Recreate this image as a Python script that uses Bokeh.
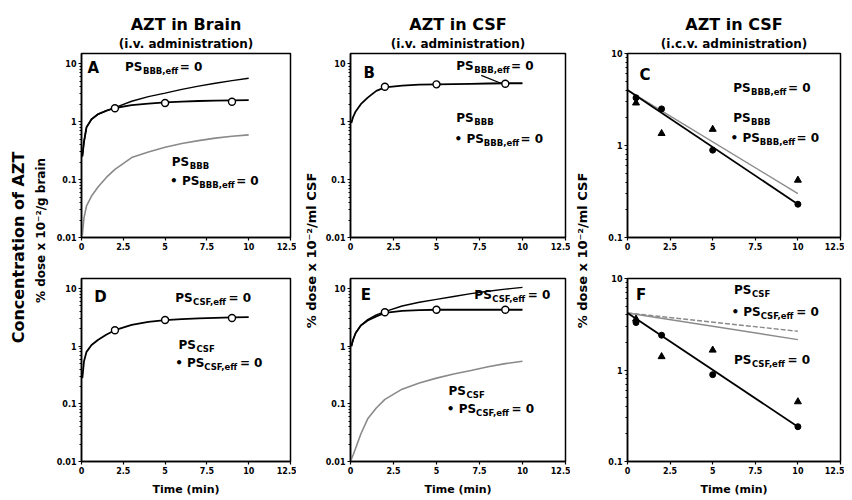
import numpy as np
from bokeh.plotting import figure
from bokeh.models import Label, Title, FixedTicker, CustomJSTickFormatter, Range1d
from bokeh.layouts import row, column
from bokeh.embed import file_html
from bokeh.resources import INLINE

FONT = "DejaVu Sans"

# ---------------- data ----------------
X_TICKS = [0, 2.5, 5, 7.5, 10, 12.5]
X_TICK_LABELS = ["0", "2.5", "5", "7.5", "10", "12.5"]
Y_TICKS_WIDE = [0.01, 0.1, 1, 10]
Y_TICK_LABELS_WIDE = ["0.01", "0.1", "1", "10"]
Y_TICKS_NARROW = [0.1, 1, 10]
Y_TICK_LABELS_NARROW = ["0.1", "1", "10"]

TITLES = ["AZT in Brain", "AZT in CSF", "AZT in CSF"]
SUBTITLES = ["(i.v. administration)", "(i.v. administration)", "(i.c.v. administration)"]
PANEL_LETTERS = ["A", "B", "C", "D", "E", "F"]
Y_LABEL_1 = "Concentration of AZT"
Y_LABEL_2 = "% dose x 10\u207b\u00b2/g brain"
Y_LABEL_CSF = "% dose x 10\u207b\u00b2/ml CSF"
X_LABEL = "Time (min)"

curve_t = [0.05, 0.15, 0.3, 0.6, 1, 1.5, 2, 3, 4, 5, 6, 7, 8, 9, 10]

# Panel A - brain, i.v.
a_eff0 = [0.25, 0.45, 0.8, 1.1, 1.35, 1.55, 1.75, 2.25, 2.7, 3.1, 3.6, 4.1, 4.6, 5.1, 5.6]
a_fit = [0.25, 0.45, 0.8, 1.1, 1.35, 1.55, 1.72, 1.92, 2.05, 2.15, 2.22, 2.27, 2.3, 2.33, 2.35]
a_low = [0.011, 0.022, 0.035, 0.052, 0.075, 0.11, 0.15, 0.24, 0.3, 0.36, 0.42, 0.47, 0.52, 0.56, 0.59]
a_obs_t = [2, 5, 9]
a_obs = [1.7, 2.1, 2.2]

# Panel B - CSF, i.v.
b_fit = [0.95, 1.2, 1.5, 2.0, 2.6, 3.4, 3.9, 4.2, 4.35, 4.4, 4.45, 4.5, 4.55, 4.6, 4.6]
b_obs_t = [2, 5, 9]
b_obs = [4.0, 4.4, 4.5]
b_leader_t = [7.6, 9.0]
b_leader = [6.3, 4.3]

# Panel C - CSF, i.c.v.
c_line_t = [0, 10]
c_fit = [4.0, 0.23]
c_fit2 = [4.0, 0.30]
c_obs_t = [0.5, 2, 5, 10]
c_circles = [3.3, 2.5, 0.89, 0.23]
c_triangles = [2.9, 1.35, 1.5, 0.42]

# Panel D - brain, i.v. (CSF parameters)
d_fit = [0.28, 0.55, 0.8, 1.05, 1.3, 1.6, 1.9, 2.35, 2.65, 2.85, 2.97, 3.05, 3.12, 3.17, 3.2]
d_obs_t = [2, 5, 9]
d_obs = [1.9, 2.85, 3.1]

# Panel E - CSF, i.v. (CSF parameters)
e_eff0 = [1.0, 1.3, 1.7, 2.3, 2.9, 3.5, 4.0, 5.0, 5.8, 6.5, 7.3, 8.2, 9.0, 9.8, 10.5]
e_fit = [1.0, 1.3, 1.7, 2.3, 2.8, 3.3, 3.8, 4.1, 4.25, 4.3, 4.3, 4.3, 4.3, 4.3, 4.3]
e_low = [0.011, 0.013, 0.017, 0.03, 0.055, 0.085, 0.12, 0.18, 0.23, 0.28, 0.33, 0.38, 0.44, 0.5, 0.55]
e_obs_t = [2, 5, 9]
e_obs = [3.9, 4.3, 4.3]

# Panel F - CSF, i.c.v. (CSF parameters)
f_line_t = [0, 10]
f_fit = [4.2, 0.24]
f_alt1 = [4.2, 2.65]
f_alt2 = [4.2, 2.15]
f_obs_t = [0.5, 2, 5, 10]
f_circles = [3.3, 2.4, 0.89, 0.24]
f_triangles = [3.6, 1.4, 1.65, 0.45]

# ---------------- helpers ----------------
CW = {"P": .733, "S": .720, "B": .762, "C": .734, "F": .683, "e": .678, "f": .435,
      ",": .380, " ": .348, "=": .838, "0": .696, "\u2022": .590}
INK = "black"


def tw(s, size):
    return sum(CW.get(c, 0.65) for c in s) * size


def fmt(ticks, labels):
    return CustomJSTickFormatter(args=dict(tvals=ticks, tlabels=labels), code="""
        for (let i = 0; i < tvals.length; i++) {
            if (Math.abs(tvals[i] - tick) <= 1e-6 * Math.max(1e-3, Math.abs(tvals[i]))) return tlabels[i];
        }
        return "";
    """)


def minor_log(lo_exp, hi_exp):
    return [m * 10.0 ** e for e in range(lo_exp, hi_exp) for m in range(2, 10)]


def panel(w, h, yr, yticks, ylabels, bl, br, bt, bb, letter, lx, ly):
    p = figure(width=w, height=h, x_range=Range1d(0, 12.5), y_range=Range1d(*yr),
               y_axis_type="log", output_backend="svg", toolbar_location=None,
               title_location=None, min_border_left=bl, min_border_right=br,
               min_border_top=bt, min_border_bottom=bb)
    p.xgrid.visible = False
    p.ygrid.visible = False
    p.outline_line_color = INK
    p.outline_line_width = 1.5
    p.background_fill_color = "white"
    p.xaxis.ticker = FixedTicker(ticks=X_TICKS)
    p.xaxis.formatter = fmt(X_TICKS, X_TICK_LABELS)
    lo = int(round(np.log10(yticks[0])))
    p.yaxis.ticker = FixedTicker(ticks=yticks, minor_ticks=minor_log(lo, 1))
    p.yaxis.formatter = fmt(yticks, ylabels)
    for ax in (p.xaxis[0], p.yaxis[0]):
        ax.axis_line_width = 1.5
        ax.axis_line_color = INK
        ax.major_tick_line_color = INK
        ax.minor_tick_line_color = INK
        ax.major_tick_in = 0
        ax.major_tick_out = 3
        ax.minor_tick_in = 0
        ax.minor_tick_out = 2
        ax.major_tick_line_width = 1.2
        ax.major_label_text_font = FONT
        ax.major_label_text_font_size = "8px"
        ax.major_label_text_font_style = "bold"
        ax.major_label_text_color = INK
        ax.major_label_standoff = 2
    p.xaxis.minor_tick_line_color = None
    p.add_layout(Label(x=lx, y=ly, text=letter, text_font=FONT, text_font_size="15px",
                       text_font_style="bold", text_baseline="middle", text_color=INK))
    return p


def ps_label(p, x, y, sub, bullet=False, tail=" = 0"):
    main = "\u2022 PS" if bullet else "PS"
    s_main, s_sub = 12, 8.5
    wm = tw(main, s_main)
    p.add_layout(Label(x=x, y=y, text=main, text_font=FONT, text_font_size=f"{s_main}px",
                       text_font_style="bold", text_baseline="middle", text_color=INK))
    p.add_layout(Label(x=x, y=y, x_offset=wm + 0.5, y_offset=-4, text=sub, text_font=FONT,
                       text_font_size=f"{s_sub}px", text_font_style="bold",
                       text_baseline="middle", text_color=INK))
    if tail:
        p.add_layout(Label(x=x, y=y, x_offset=wm + tw(sub, s_sub) + 1.5, text=tail,
                           text_font=FONT, text_font_size=f"{s_main}px",
                           text_font_style="bold", text_baseline="middle", text_color=INK))


def titles(p, main, sub):
    p.add_layout(Title(text=sub, align="center", text_font=FONT, text_font_size="12px",
                       text_font_style="bold", text_color=INK, standoff=5), "above")
    p.add_layout(Title(text=main, align="center", text_font=FONT, text_font_size="16px",
                       text_font_style="bold", text_color=INK, standoff=-2), "above")


def xlabel(p):
    p.xaxis.axis_label = X_LABEL
    p.xaxis.axis_label_text_font = FONT
    p.xaxis.axis_label_text_font_size = "11px"
    p.xaxis.axis_label_text_font_style = "bold"
    p.xaxis.axis_label_text_color = INK
    p.xaxis.axis_label_standoff = 6


def side(w, h, entries):
    p = figure(width=w, height=h, x_range=Range1d(0, w), y_range=Range1d(0, h),
               output_backend="svg", toolbar_location=None, title_location=None,
               x_axis_location=None, y_axis_location=None, min_border=0)
    p.outline_line_color = None
    p.xgrid.visible = False
    p.ygrid.visible = False
    for (x, y, text, size) in entries:
        p.add_layout(Label(x=x, y=y, text=text, angle=np.pi / 2, text_align="center",
                           text_baseline="middle", text_font=FONT, text_font_size=size,
                           text_font_style="bold", text_color=INK))
    return p


BLACK = "black"
GRAY = "#8a8a8a"
WIDE = (0.01, 15)
NARROW = (0.1, 10)
TOP_H, BOT_H = 258, 240
TB, BT, BB = 53, 20, 36
W1, W2, W3 = 246, 250, 252

# ---------------- panel A ----------------
pA = panel(W1, TOP_H, WIDE, Y_TICKS_WIDE, Y_TICK_LABELS_WIDE, 31, 6, TB, 21, PANEL_LETTERS[0], 0.36, 8.3)
titles(pA, TITLES[0], SUBTITLES[0])
pA.line(curve_t, a_eff0, line_color=BLACK, line_width=1.4)
pA.line(curve_t, a_fit, line_color=BLACK, line_width=1.8)
pA.line(curve_t, a_low, line_color=GRAY, line_width=1.6)
pA.scatter(a_obs_t, a_obs, marker="circle", size=7, fill_color="white", line_color=BLACK, line_width=1.4)
ps_label(pA, 2.6, 8.7, "BBB,eff")
ps_label(pA, 5.4, 0.2, "BBB", tail="")
ps_label(pA, 5.3, 0.095, "BBB,eff", bullet=True)

# ---------------- panel B ----------------
pB = panel(W2, TOP_H, WIDE, Y_TICKS_WIDE, Y_TICK_LABELS_WIDE, 30, 5, TB, 21, PANEL_LETTERS[1], 0.75, 6.9)
titles(pB, TITLES[1], SUBTITLES[1])
pB.line(curve_t, b_fit, line_color=BLACK, line_width=1.8)
pB.line(b_leader_t, b_leader, line_color=BLACK, line_width=1.2)
pB.scatter(b_obs_t, b_obs, marker="circle", size=7, fill_color="white", line_color=BLACK, line_width=1.4)
ps_label(pB, 6.15, 9.1, "BBB,eff")
ps_label(pB, 6.15, 1.15, "BBB", tail="")
ps_label(pB, 6.05, 0.51, "BBB,eff", bullet=True)

# ---------------- panel C ----------------
pC = panel(W3, TOP_H, NARROW, Y_TICKS_NARROW, Y_TICK_LABELS_NARROW, 35, 4, TB, 21, PANEL_LETTERS[2], 0.7, 5.8)
titles(pC, TITLES[2], SUBTITLES[2])
pC.line(c_line_t, c_fit2, line_color=GRAY, line_width=1.4)
pC.line(c_line_t, c_fit, line_color=BLACK, line_width=1.8)
pC.scatter(c_obs_t, c_circles, marker="circle", size=6, fill_color=BLACK, line_color=BLACK)
pC.scatter(c_obs_t, c_triangles, marker="triangle", size=7, fill_color=BLACK, line_color=BLACK)
ps_label(pC, 6.2, 4.2, "BBB,eff")
ps_label(pC, 6.2, 2.0, "BBB", tail="")
ps_label(pC, 6.05, 1.22, "BBB,eff", bullet=True)

# ---------------- panel D ----------------
pD = panel(W1, BOT_H, WIDE, Y_TICKS_WIDE, Y_TICK_LABELS_WIDE, 31, 6, BT, BB, PANEL_LETTERS[3], 0.77, 7.1)
xlabel(pD)
pD.line(curve_t, d_fit, line_color=BLACK, line_width=1.8)
pD.scatter(d_obs_t, d_obs, marker="circle", size=7, fill_color="white", line_color=BLACK, line_width=1.4)
ps_label(pD, 5.6, 6.8, "CSF,eff")
ps_label(pD, 5.8, 1.07, "CSF", tail="")
ps_label(pD, 5.6, 0.52, "CSF,eff", bullet=True)

# ---------------- panel E ----------------
pE = panel(W2, BOT_H, WIDE, Y_TICKS_WIDE, Y_TICK_LABELS_WIDE, 30, 5, BT, BB, PANEL_LETTERS[4], 0.6, 7.7)
xlabel(pE)
pE.line(curve_t, e_eff0, line_color=BLACK, line_width=1.4)
pE.line(curve_t, e_fit, line_color=BLACK, line_width=1.8)
pE.line(curve_t, e_low, line_color=GRAY, line_width=1.6)
pE.scatter(e_obs_t, e_obs, marker="circle", size=7, fill_color="white", line_color=BLACK, line_width=1.4)
ps_label(pE, 7.2, 7.7, "CSF,eff")
ps_label(pE, 5.7, 0.165, "CSF", tail="")
ps_label(pE, 5.6, 0.08, "CSF,eff", bullet=True)

# ---------------- panel F ----------------
pF = panel(W3, BOT_H, NARROW, Y_TICKS_NARROW, Y_TICK_LABELS_NARROW, 35, 4, BT, BB, PANEL_LETTERS[5], 0.5, 6.6)
xlabel(pF)
pF.line(f_line_t, f_alt1, line_color=GRAY, line_width=1.4, line_dash="5 2")
pF.line(f_line_t, f_alt2, line_color=GRAY, line_width=1.4)
pF.line(f_line_t, f_fit, line_color=BLACK, line_width=1.8)
pF.scatter(f_obs_t, f_circles, marker="circle", size=6, fill_color=BLACK, line_color=BLACK)
pF.scatter(f_obs_t, f_triangles, marker="triangle", size=7, fill_color=BLACK, line_color=BLACK)
ps_label(pF, 6.25, 7.4, "CSF", tail="")
ps_label(pF, 6.1, 4.3, "CSF,eff", bullet=True)
ps_label(pF, 6.25, 1.3, "CSF,eff")

# ---------------- side labels ----------------
H = TOP_H + BOT_H
L1 = side(50, H, [(18, H - 247, Y_LABEL_1, "16px"), (40, H - 230, Y_LABEL_2, "12px")])
L2 = side(24, H, [(15, H - 250, Y_LABEL_CSF, "13px")])
L3 = side(22, H, [(12, H - 250, Y_LABEL_CSF, "13px")])

layout = row(L1, column(pA, pD), L2, column(pB, pE), L3, column(pC, pF))

open("out.html", "w").write(file_html(layout, INLINE))
